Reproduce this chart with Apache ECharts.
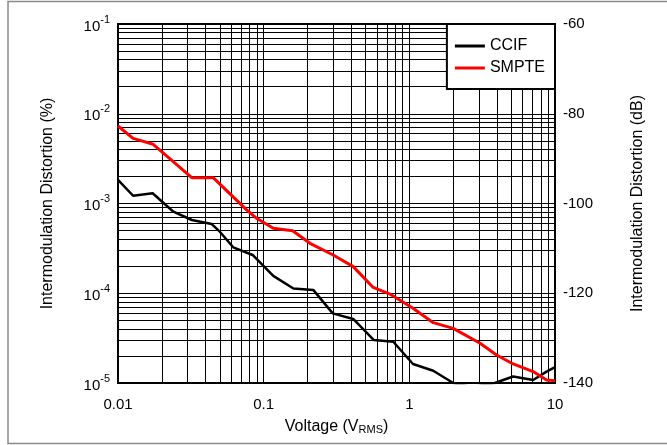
<!DOCTYPE html>
<html>
<head>
<meta charset="utf-8">
<script src="https://cdn.jsdelivr.net/npm/echarts@6/dist/echarts.min.js"></script>
<style>
  html, body { margin: 0; padding: 0; background: #fff; }
  #main { width: 667px; height: 445px; }
</style>
</head>
<body>
<div id="main"></div>
<script>
// voltage (Vrms) and IMD (%)
const ccifV = [0.01, 0.0127, 0.0173, 0.024, 0.0321, 0.044, 0.05, 0.0618, 0.084, 0.1164, 0.16, 0.219, 0.298, 0.412, 0.571, 0.776, 1.06, 1.46, 2.0, 2.7, 3.86, 5.16, 7.08, 8.75, 10]
const ccifIMD = [1.83e-3, 1.22e-3, 1.30e-3, 8.1e-4, 6.55e-4, 5.9e-4, 4.85e-4, 3.25e-4, 2.67e-4, 1.56e-4, 1.13e-4, 1.09e-4, 5.97e-5, 5.17e-5, 3.01e-5, 2.88e-5, 1.63e-5, 1.37e-5, 1.0e-5, 9.0e-6, 1.0e-5, 1.18e-5, 1.08e-5, 1.34e-5, 1.5e-5]
const smpteV = [0.01, 0.0127, 0.01745, 0.0321, 0.045, 0.0764, 0.0895, 0.1164, 0.158, 0.208, 0.30, 0.412, 0.565, 0.736, 1.06, 1.46, 2.0, 3.06, 3.97, 5.16, 7.08, 8.75, 10]
const smpteIMD = [7.3e-3, 5.32e-3, 4.57e-3, 1.94e-3, 1.94e-3, 8.5e-4, 6.84e-4, 5.3e-4, 4.98e-4, 3.6e-4, 2.67e-4, 1.98e-4, 1.16e-4, 9.8e-5, 6.8e-5, 4.7e-5, 4.06e-5, 2.77e-5, 2.05e-5, 1.63e-5, 1.34e-5, 1.08e-5, 1.06e-5]

// axis ranges / ticks
const xDecades = [-2, -1, 0]      // 0.01 .. 10
const yDecades = [-5, -4, -3, -2] // 1e-5 .. 1e-1 %
const dbTicks = [-140, -120, -100, -80, -60]

const FONT = "'Liberation Sans', Arial, sans-serif"

function zip(a, b) {
  return a.map((v, i) => [v, b[i]])
}
// % -> dB (same scale as the right axis)
function pctToDb(p) {
  return 20 * Math.log10(p) - 40
}

// log grid lines: 1..9 in every decade
// horizontal ones go through the dB axis (markLine rounds tiny values on the log axis)
const gridLines = []
xDecades.forEach(d => {
  for (let k = 1; k <= 9; k++) gridLines.push({ xAxis: k * Math.pow(10, d) })
})
yDecades.forEach(d => {
  for (let k = 1; k <= 9; k++) gridLines.push({ yAxis: pctToDb(k * Math.pow(10, d)) })
})

let myChart = echarts.init(document.getElementById('main'))
myChart.setOption({
  animation: false,
  textStyle: { fontFamily: FONT },
  graphic: [{
    type: 'rect',
    shape: { x: 8, y: 1.5, width: 662, height: 442 },
    style: { fill: 'none', stroke: '#8a8a8a', lineWidth: 1.5 },
    silent: true
  }],
  grid: {
    left: 118,
    right: 112,
    top: 24,
    bottom: 62,
    show: true,
    borderColor: '#000',
    borderWidth: 2,
    backgroundColor: 'transparent'
  },
  legend: {
    data: ['CCIF', 'SMPTE'],
    orient: 'vertical',
    right: 112,
    top: 24,
    z: 20,
    backgroundColor: '#fff',
    borderColor: '#000',
    borderWidth: 2,
    borderRadius: 0,
    padding: [14, 10, 13, 8],
    itemGap: 6,
    itemWidth: 30,
    itemHeight: 3,
    icon: 'rect',
    textStyle: { fontSize: 16, color: '#000', fontFamily: FONT }
  },
  xAxis: {
    type: 'log',
    logBase: 10,
    min: 0.01,
    max: 10,
    name: 'Voltage (V{sub|RMS})',
    nameLocation: 'middle',
    nameGap: 36,
    nameTextStyle: {
      fontSize: 16,
      color: '#000',
      rich: {
        sub: { fontSize: 11, verticalAlign: 'bottom', lineHeight: 14, color: '#000' }
      }
    },
    axisLine: { show: false },
    axisTick: { show: false },
    splitLine: { show: false },
    axisLabel: {
      fontSize: 15,
      color: '#000',
      margin: 14,
      formatter: v => v >= 1 ? String(Math.round(v)) : String(+v.toPrecision(1))
    }
  },
  yAxis: [
    {
      type: 'log',
      logBase: 10,
      min: 1e-5,
      max: 1e-1,
      name: 'Intermodulation Distortion (%)',
      nameLocation: 'middle',
      nameRotate: 90,
      nameGap: 62,
      nameTextStyle: { fontSize: 16, color: '#000' },
      axisLine: { show: false },
      axisTick: { show: false },
      splitLine: { show: false },
      axisLabel: {
        margin: 8,
        color: '#000',
        formatter: v => '{b|10}{s|' + Math.round(Math.log10(v)) + '}',
        rich: {
          b: { fontSize: 15, color: '#000', lineHeight: 20, verticalAlign: 'bottom' },
          s: { fontSize: 11, color: '#000', lineHeight: 20, verticalAlign: 'top' }
        }
      }
    },
    {
      type: 'value',
      position: 'right',
      min: dbTicks[0],
      max: dbTicks[dbTicks.length - 1],
      interval: 20,
      name: 'Intermodulation Distortion (dB)',
      nameLocation: 'middle',
      nameRotate: 90,
      nameGap: 75,
      nameTextStyle: { fontSize: 16, color: '#000' },
      axisLine: { show: false },
      axisTick: { show: false },
      splitLine: { show: false },
      axisLabel: { fontSize: 15, color: '#000', margin: 8 }
    }
  ],
  series: [
    {
      name: 'grid',
      type: 'line',
      yAxisIndex: 1,
      data: [],
      silent: true,
      z: 1,
      markLine: {
        silent: true,
        z: 1,
        symbol: ['none', 'none'],
        label: { show: false },
        precision: 4,
        lineStyle: { color: '#000', width: 1, type: 'solid' },
        emphasis: { disabled: true },
        data: gridLines
      }
    },
    {
      name: 'CCIF',
      type: 'line',
      showSymbol: false,
      symbol: 'none',
      color: '#000',
      z: 3,
      lineStyle: { color: '#000', width: 2.5 },
      data: zip(ccifV, ccifIMD)
    },
    {
      name: 'SMPTE',
      type: 'line',
      showSymbol: false,
      symbol: 'none',
      color: '#ff0000',
      z: 4,
      lineStyle: { color: '#ff0000', width: 3 },
      data: zip(smpteV, smpteIMD)
    }
  ]
})
</script>
</body>
</html>
